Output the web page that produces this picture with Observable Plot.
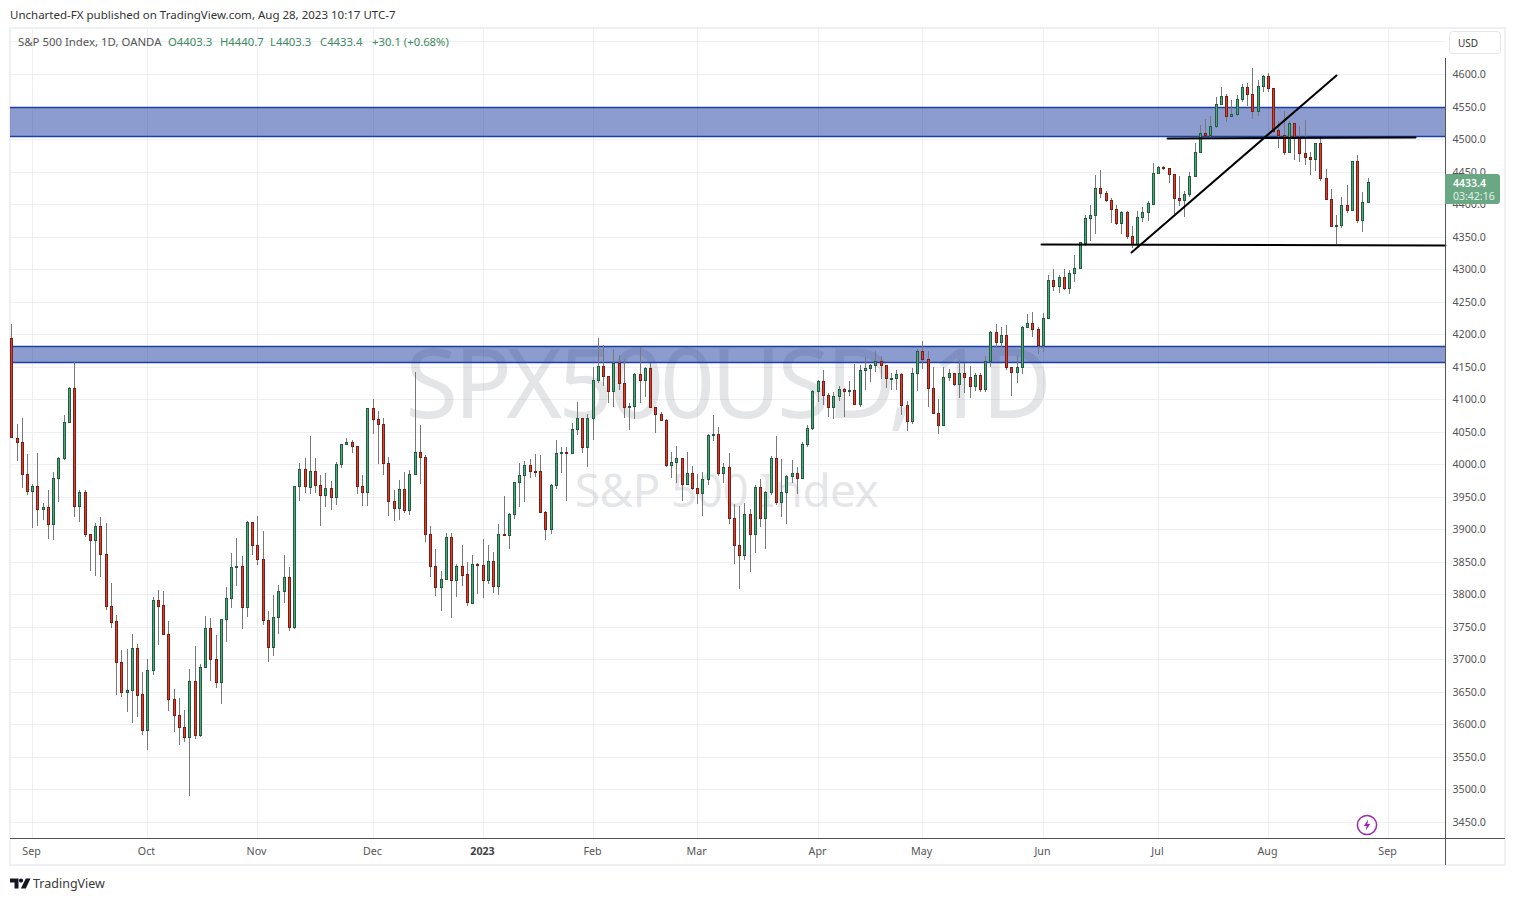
<!DOCTYPE html>
<html><head><meta charset="utf-8">
<script src="https://cdn.jsdelivr.net/npm/d3@7"></script>
<script src="https://cdn.jsdelivr.net/npm/@observablehq/plot@0.6"></script>
<style>
html,body{margin:0;padding:0;background:#fff;width:1515px;height:901px;overflow:hidden;font-family:"Noto Sans",sans-serif;}
#chart{position:absolute;left:0;top:0;z-index:1;}
.abs{position:absolute;white-space:nowrap;z-index:2;}
.line{position:absolute;z-index:2;}
</style></head><body>
<div id="chart"></div>
<script>
const opens=[4193.6,4041,4033.7,3984.5,3959.4,3966,3930.7,3933.8,3907.6,3978.4,
4009.1,4064.5,4116.7,3935.3,3956.8,3892.3,3883,3904.6,3861.5,3781.6,
3758.5,3695.5,3650.4,3652.4,3717,3646.2,3591.9,3683.2,3790.8,3783,
3738.5,3638.6,3613.9,3595.5,3580.2,3666.3,3583.2,3687.8,3747.7,3700,
3664.7,3761.6,3793.9,3841.5,3843,3780,3910.7,3875.4,3853.8,3760,
3718.5,3764.6,3804.6,3826.2,3749.3,3966,3992.2,3965.5,3989.1,3967.6,
3952.2,3963,3949.2,4000,4030.6,4033.7,4027.6,3966,3956.8,4086,
4069,4061.4,4001.4,3943,3932.2,3961.4,3929.2,3984.5,4018.3,4010.6,
3892.3,3843,3810.8,3823,3887.6,3821.5,3843,3830.7,3787.2,3846,
3844.6,3822.5,3850.7,3812.3,3892.3,3890.7,3923,3972.2,3983,3998.3,
3989,3989,3926,3899.9,3967.6,4016.8,4018.3,4016.8,4053.7,4070.6,
4026,4070.6,4129,4150.5,4135.2,4112.1,4155.2,4124.4,4087.4,4089,
4138.2,4129,4147.4,4087.4,4076.7,4067.5,3998.3,4002.9,4009,3969,
3986,3962.9,3955.2,3976.8,4044.4,4045.9,3986,3995.2,3916.8,3875.3,
3859.9,3923,3892.2,3964.5,3916.8,3956.8,4009,3941.4,3956.8,3981.4,
3986,3978.3,4030.6,4055.2,4112.1,4127.5,4105.9,4087.5,4104.4,4115.2,
4112.1,4113.6,4092.1,4144.4,4147.4,4152,4158.2,4152,4131.5,4132,
4138.2,4090.5,4066,4139.7,4173.6,4161.3,4116.7,4078.3,4059.8,4133.6,
4139.7,4122.8,4139.7,4133.6,4119.7,4136.7,4115.1,4158.2,4202.8,4187.4,
4198.1,4149,4141.3,4149,4210.4,4216.6,4207.4,4182.8,4224.3,4282.7,
4273.5,4287.3,4270.4,4293.5,4301.2,4339.6,4378.1,4382.7,4424.2,4416.5,
4405.7,4391.9,4370.4,4387.3,4350.4,4338.1,4379.6,4387.3,4400.6,4447.3,
4456.5,4455,4445.7,4408.8,4405.7,4415,4442.6,4479.5,4508.8,4505.7,
4519.5,4553.3,4565.6,4534.9,4538,4561,4579.5,4568.7,4542.6,4581,
4596.4,4578,4513.4,4505.7,4479.5,4524.1,4501,4478,4471.9,4468.8,
4493.4,4439.6,4407.3,4365.8,4367.3,4398,4390.4,4465.7,4375,4403.3];
const highs=[4215.6,4062,4070.6,4015,3969.6,4016.8,3940.4,3960.4,3987.6,4011.2,
4075.7,4118.3,4158.2,3960.4,3960.4,3892.3,3909.2,3918.4,3909.2,3816.9,
3768.2,3714.4,3715.4,3739,3723.6,3680.6,3700,3796.4,3806,3805,
3759,3653.9,3640,3621.7,3684.7,3720,3692.4,3766.2,3763.1,3737,
3761.6,3810.8,3863,3886,3858.9,3912.3,3910.7,3920,3896.9,3773.9,
3798.5,3813.9,3860.5,3841.5,3966,4001.4,4009,4043.4,4009,3983,
3986,3973.8,4003,4030.6,4039.9,4036.8,4027.6,3983,4086,4099.8,
4081.4,4070.6,4010.6,3960,3975.3,3987.6,3990.7,4141.3,4059.8,4013.7,
3904.6,3869,3835.4,3893.8,3893.8,3846,3875.8,3849.2,3860,3847.7,
3884.5,3875.3,3864.6,3907.6,3950.7,3924.5,3972.2,4001.4,4004.5,4007.5,
4015.2,4013.7,3927.6,3969.1,4036.8,4026,4026,4062.9,4095.2,4070.6,
4076.7,4149,4193.6,4182.8,4135.2,4176.7,4167.4,4161.8,4093.6,4139.7,
4180,4149,4155,4087.4,4079.8,4069,4018.3,4027.5,4009,4018.3,
3996.7,3984.4,3987.5,4045.9,4075.2,4056.7,4001.4,4016.7,3938.3,3935.2,
3939.9,3930.6,3967.5,3976.8,3958.3,4012.1,4042.9,4007.5,3982.9,4006,
3995.2,4033.7,4059.8,4113.6,4129,4144.4,4109,4110.5,4119.8,4116.7,
4127.5,4153.6,4152,4164.3,4153.6,4173.6,4165.9,4152,4139.7,4144.4,
4139.7,4096.7,4147.4,4176.7,4189.5,4173.6,4149,4099.8,4149,4145.9,
4139.7,4159.7,4155.1,4150.5,4139.7,4139.7,4165.9,4204.3,4215,4210.4,
4213.5,4149,4165.9,4212,4230.4,4233.5,4210.4,4232,4290.4,4299.6,
4290.4,4299.6,4298.1,4321.1,4341.7,4382.7,4398,4444.2,4451.9,4419.6,
4408.8,4398,4388.8,4388.8,4365.8,4388.8,4395,4404.2,4462.6,4458,
4458,4455,4445.7,4442.6,4419.6,4448.8,4493.4,4521,4530.3,4534.9,
4564,4579.5,4568.7,4559.5,4567.2,4584,4585.6,4608.7,4590.2,4597.9,
4601,4578,4527.2,4542.6,4527.2,4524.1,4519.5,4528.7,4479.5,4493.4,
4502.6,4453.4,4422.6,4382.7,4410.4,4428.8,4465.7,4475,4418,4440.7];
const lows=[4041,4005.5,3964,3953.2,3902.5,3905.6,3914.8,3885.6,3884,3942.5,
4006,4062.9,3919.4,3911.7,3888.7,3836.4,3828.7,3827.2,3776.4,3748.8,
3645.7,3642.7,3619.6,3602.7,3610.9,3584.3,3561.2,3676.5,3722.6,3738.5,
3621.1,3588.9,3567.9,3573.5,3490.5,3578.1,3581.2,3687.8,3667.3,3656.5,
3631.9,3727.2,3779.5,3813.3,3747.2,3765.7,3861,3845.6,3753.4,3696.5,
3705.7,3739.5,3787.2,3744.2,3746.2,3944,3956.3,3954.8,3956.3,3905.6,
3934.8,3930.2,3937.9,3994.8,4030.6,4017.8,3954.8,3936.3,3936.3,4047,
4000,3984,3921,3913.3,3914.8,3925.6,3922.5,3984.5,3970.2,3880,
3827.2,3798,3775,3823,3764.1,3796.4,3813.3,3782.6,3784.6,3800,
3794.9,3816.4,3802.5,3799.5,3889.2,3870.2,3916.3,3934.8,3942.5,3978.3,
3980.9,3926,3883,3892.2,3961.4,3986,3944,4015.2,4044.4,4016.8,
3995.2,4036.8,4124.4,4119.8,4093.7,4087.5,4113.6,4070.5,4052,4069,
4093.6,4102.8,4087.4,4047.5,4065.9,3995.2,3978.3,3970.6,3942.9,3969,
3959.8,3938.3,3919.9,3967.5,4035.2,3981.4,3970.6,3907.6,3846.1,3807.6,
3852.2,3833.8,3863,3904,3869.1,3952.1,3936.8,3919.4,3907.6,3970.6,
3953.7,3978.3,4026,4052.1,4095.2,4090.5,4072,4069,4096.7,4073.1,
4104.4,4090.5,4087.5,4114.1,4125.9,4141.3,4130.5,4116.7,4114,4114.1,
4075.2,4051.6,4062.4,4112.6,4146,4088.5,4078.3,4046,4059.8,4127.4,
4119.7,4101.3,4109,4101.3,4112,4110.5,4110.5,4149,4180.7,4179.7,
4144.3,4105.4,4124.4,4138.2,4210.4,4195.1,4168.9,4172,4222.8,4266.8,
4262.7,4267.3,4261.2,4280.7,4301.2,4335,4343.7,4353.5,4409.3,4402.7,
4370.4,4367.3,4353.5,4345.8,4332,4335,4371.9,4373.4,4398,4445.7,
4451.9,4431.9,4384.2,4396.5,4379.6,4410.4,4442.6,4479.5,4504,4499.5,
4516.4,4551.8,4526.7,4533.3,4534.9,4556.4,4550.3,4530.3,4534.9,4571.8,
4571.8,4508.8,4486.7,4476,4479.5,4467.2,4464.2,4459.5,4444.2,4450.3,
4435,4405.7,4365.8,4338.1,4362.7,4385.8,4390.4,4370.4,4356.5,4403.3];
const closes=[4041.4,4033.7,3984.5,3959.4,3966,3930.7,3933.8,3907.6,3978.4,4009.1,
4064.5,4116.7,3935.3,3956.8,3892.3,3883,3904.6,3861.5,3781.6,3758,
3695.5,3650.4,3652.4,3717,3645.7,3591.9,3683.2,3790.8,3782.6,3738.5,
3638.6,3613.9,3595.5,3580.2,3666.3,3583.2,3687.8,3747.7,3700,3664.7,
3761.6,3793.9,3841.5,3843,3780,3910.7,3875.4,3853.8,3760,3718.5,
3764.6,3804.6,3826.2,3749.3,3966,3992.2,3966,3989.1,3967.6,3952.2,
3963,3949.2,4000,4030.6,4033.7,4027.6,3966,3956.8,4086,4069,
4061.4,4001.4,3943,3932.2,3961.4,3929.2,3984.5,4018.3,4010.6,3892.3,
3843,3810.8,3823,3887.6,3821.5,3843,3830.2,3787.7,3846,3844.6,
3822.5,3850.7,3812.3,3892.3,3890.7,3923,3972.2,3983,3998.3,3989,
3988.6,3926,3899.9,3967.6,4016.8,4018.3,4016.8,4053.7,4070.6,4026,
4070.6,4129,4150.5,4135.2,4112.1,4155.2,4124.4,4087.4,4089,4138.2,
4129,4147.4,4087.4,4076.7,4067.5,3998.3,4002.9,4009,3969,3986,
3962.9,3955.2,3976.8,4044.4,4045.9,3986,3995.2,3916.8,3875.3,3859.9,
3923,3892.2,3964.5,3916.8,3956.8,4009,3941.4,3956.8,3981.4,3986,
3978.3,4030.6,4055.2,4112.1,4127.5,4105.9,4087.5,4104.4,4115.2,4112.1,
4113.6,4092.1,4144.4,4147.4,4152,4158.2,4152,4132,4132,4138.2,
4090.5,4066,4139.7,4173.6,4161.3,4116.7,4078.3,4059.8,4133.6,4139.7,
4122.8,4139.7,4133.6,4119.7,4136.7,4115.1,4158.2,4202.8,4187.4,4198.1,
4149,4141.3,4149,4210.4,4216.6,4207.4,4182.8,4224.3,4282.7,4273.5,
4287.3,4270.4,4293.5,4301.2,4341.1,4378.1,4382.7,4424.2,4416.5,4405.7,
4391.9,4370.4,4387.3,4350.4,4338.1,4379.6,4387.3,4401.1,4447.3,4456.5,
4455,4445.7,4408.8,4405.7,4415,4442.6,4479.5,4508.8,4505.7,4519.5,
4553.3,4565.6,4534.9,4538,4561,4579.5,4568.7,4542.6,4581,4596.4,
4578,4511.8,4505.7,4479.5,4524.1,4501,4478,4471.9,4468.8,4493.4,
4439.6,4407.3,4365.8,4367.3,4398,4390.4,4465.7,4375,4402.7,4433.4];

const monthIdx=[4,26,47,69,90,111,131,154,174,197,219,240,263];
const monthLabels=["Sep","Oct","Nov","Dec","2023","Feb","Mar","Apr","May","Jun","Jul","Aug","Sep"];
const priceTicks=[4600,4550,4500,4450,4400,4350,4300,4250,4200,4150,4100,4050,4000,3950,3900,3850,3800,3750,3700,3650,3600,3550,3500,3450];
const gridPrices=[4650,...priceTicks];
const bands=[{top:4549.7,bottom:4504.2},{top:4181.3,bottom:4156.7}];
const trendA=[{i:196.7,p:4339.2},{i:273.8,p:4336.8}];
const trendB=[{i:213.8,p:4326.3},{i:253.0,p:4598.5}];
const trendC=[{i:220.8,p:4501.1},{i:268.1,p:4502.6}];
const xDomain=[-0.25,273.8];
const yDomain=[3425.3,4670.7];

const candles=opens.map((o,i)=>({i,o,h:highs[i],l:lows[i],c:closes[i],top:Math.max(o,closes[i]),bot:Math.min(o,closes[i])}));
const ups=candles.filter(d=>d.c>=d.o), downs=candles.filter(d=>d.c<d.o);
const RED_E="#7a1f16",RED_F="#dc3d2d",GRN_E="#1f5f3f",GRN_F="#52a67c",WICK="#787878";
const FONT='"Noto Sans",sans-serif';

const wmStyle={fill:"#787b86",fillOpacity:0.2,fontFamily:FONT};
const plot=Plot.plot({
  width:1515,height:901,marginLeft:10,marginRight:70,marginTop:28,marginBottom:63,
  style:{fontFamily:FONT,fontSize:"10.7px",background:"transparent",overflow:"visible"},
  x:{domain:xDomain,round:true,axis:null},
  y:{domain:yDomain,round:true,axis:null},
  marks:[
    Plot.ruleY(gridPrices,{stroke:"#eeeff2",strokeWidth:1}),
    Plot.ruleX(monthIdx,{stroke:"#eeeff2",strokeWidth:1}),
    Plot.text(["SPX500USD, 1D"],{x:[136.5],y:[4119],text:d=>d,fontSize:96,...wmStyle}),
    Plot.text(["S&P 500 Index"],{x:[136.5],y:[3958],text:d=>d,fontSize:46,...wmStyle}),
    Plot.rect(bands,{x1:()=>xDomain[0],x2:()=>xDomain[1],y1:"bottom",y2:"top",fill:"#1a3a9e",fillOpacity:0.5}),
    Plot.ruleY(bands,{y:"top",stroke:"#1a3fa6",strokeWidth:1.3}),
    Plot.ruleY(bands,{y:"bottom",stroke:"#1a3fa6",strokeWidth:1.3}),
    Plot.ruleX(candles,{x:"i",y1:"h",y2:"l",stroke:WICK,strokeWidth:1}),
    Plot.ruleX(downs,{x:"i",y1:"top",y2:"bot",stroke:RED_E,strokeWidth:3,insetBottom:-1}),
    Plot.ruleX(downs,{x:"i",y1:"top",y2:"bot",stroke:RED_F,strokeWidth:1,insetTop:1}),
    Plot.ruleX(ups,{x:"i",y1:"top",y2:"bot",stroke:GRN_E,strokeWidth:3,insetBottom:-1}),
    Plot.ruleX(ups,{x:"i",y1:"top",y2:"bot",stroke:GRN_F,strokeWidth:1,insetTop:1}),
    Plot.line(trendA,{x:"i",y:"p",stroke:"#000",strokeWidth:2}),
    Plot.line(trendB,{x:"i",y:"p",stroke:"#000",strokeWidth:2}),
    Plot.line(trendC,{x:"i",y:"p",stroke:"#000",strokeWidth:2}),
    Plot.axisY({anchor:"right",ticks:priceTicks,tickSize:0,tickPadding:7,label:null,color:"#555",tickFormat:d=>d.toFixed(1)}),
    Plot.axisX({anchor:"bottom",ticks:monthIdx.filter((d,k)=>monthLabels[k]!=="2023"),tickSize:0,tickPadding:9,dx:-1,label:null,color:"#555",tickFormat:d=>monthLabels[monthIdx.indexOf(d)]}),
    Plot.axisX({anchor:"bottom",ticks:monthIdx.filter((d,k)=>monthLabels[k]==="2023"),tickSize:0,tickPadding:9,dx:-1,label:null,color:"#444",fontWeight:"bold",tickFormat:d=>monthLabels[monthIdx.indexOf(d)]})
  ]
});
document.getElementById("chart").appendChild(plot);
plot.querySelectorAll("text").forEach(t=>{
  if(t.textContent==="SPX500USD, 1D") t.style.letterSpacing="-4px";
  if(t.textContent==="S&P 500 Index") t.style.letterSpacing="-0.6px";
});

function box(css){const d=document.createElement("div");d.className="line";d.style.cssText+=css;document.body.appendChild(d);return d;}
function label(txt,css){const d=document.createElement("div");d.className="abs";d.textContent=txt;d.style.cssText+=css;document.body.appendChild(d);return d;}
// frame (behind the chart)
box("left:9px;top:27px;width:1497px;height:839px;border:2px solid #eff0f3;box-sizing:border-box;z-index:0;");
box("left:10px;top:838px;width:1495px;height:1px;background:#555;");
box("left:1445px;top:58px;width:1px;height:807px;background:#555;");
// USD button
box("left:1449px;top:31px;width:52px;height:23px;border:1px solid #e3e6ee;border-radius:4px;box-sizing:border-box;background:#fff;");
label("USD","left:1458px;top:36px;font-size:10px;line-height:14px;color:#333;");
// last price
box("left:1445px;top:174px;width:55px;height:30px;background:#6aa884;border-radius:0 3px 3px 0;");
label("4433.4","left:1453px;top:176px;font-size:10.5px;line-height:14px;color:#fff;font-weight:600;");
label("03:42:16","left:1453px;top:189px;font-size:10.5px;line-height:14px;color:#e2f0e8;");
// header
label("Uncharted-FX published on TradingView.com, Aug 28, 2023 10:17 UTC-7","left:10px;top:7px;font-size:11.5px;line-height:16px;color:#333;");
label("S&P 500 Index, 1D, OANDA","left:18px;top:34px;font-size:11.4px;line-height:16px;color:#555;");
[["O4403.3",168],["H4440.7",220],["L4403.3",270],["C4433.4",320],["+30.1 (+0.68%)",372]].forEach(([t,x])=>
  label(t,`left:${x}px;top:34px;font-size:11.3px;line-height:16px;color:#3d8a63;`));
// footer
label("TradingView","left:33px;top:875px;font-size:12.5px;line-height:17px;color:#3a3a3a;");
const ns="http://www.w3.org/2000/svg";
const logo=document.createElementNS(ns,"svg");
logo.setAttribute("width","21");logo.setAttribute("height","11");logo.style.cssText="position:absolute;left:10px;top:878px;";
logo.innerHTML='<path d="M0 0.5H8.5V10.5H4.5V4.5H0Z" fill="#131722"/><circle cx="11" cy="2.6" r="2.1" fill="#131722"/><path d="M15.8 0.5H20.5L15.8 10.5H10.8Z" fill="#131722"/>';
document.body.appendChild(logo);
const bolt=document.createElementNS(ns,"svg");
bolt.setAttribute("width","22");bolt.setAttribute("height","22");bolt.style.cssText="position:absolute;left:1356px;top:814px;z-index:2;";
bolt.innerHTML='<circle cx="11" cy="11" r="9.6" fill="#fff" stroke="#9c27b0" stroke-width="1.5"/><path d="M12.2 5.5L7.8 12H10.6L9.8 16.5L14.2 10H11.4Z" fill="#9c27b0"/>';
document.body.appendChild(bolt);
</script>
</body></html>
